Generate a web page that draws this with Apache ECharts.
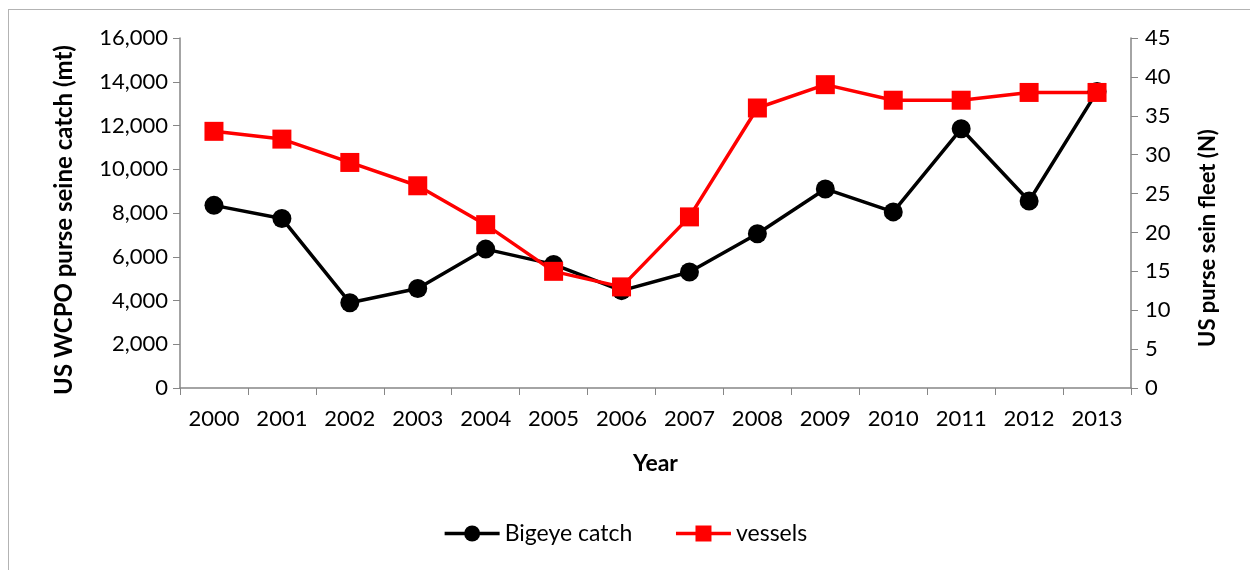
<!DOCTYPE html>
<html>
<head>
<meta charset="utf-8">
<script src="https://cdn.jsdelivr.net/npm/echarts@6/dist/echarts.min.js"></script>
<style>
  html, body { margin: 0; padding: 0; background: #fff; }
  #frame { position: absolute; left: 8px; top: 9px; width: 1250px; height: 570px;
           border-top: 1px solid #b3b3b3; border-left: 1px solid #b3b3b3; }
  #chart { position: absolute; left: 0; top: 0; width: 1250px; height: 570px; }
</style>
</head>
<body>
<div id="frame"></div>
<div id="chart"></div>
<script>
// Tahun (kategori sumbu x)
const years = ['2000', '2001', '2002', '2003', '2004', '2005', '2006',
               '2007', '2008', '2009', '2010', '2011', '2012', '2013'];

// Tangkapan bigeye (mt) - sumbu kiri
const bigeyeCatch = [8350, 7750, 3900, 4550, 6350, 5650, 4450,
                     5300, 7050, 9100, 8050, 11850, 8550, 13550];

// Jumlah kapal - sumbu kanan
const vessels = [33, 32, 29, 26, 21, 15, 13, 22, 36, 39, 37, 37, 38, 38];

const fontFamily = 'Lato, "Open Sans", sans-serif';
const axisGray = '#868686';

const chart = echarts.init(document.getElementById('chart'));

chart.setOption({
    animation: false,
    textStyle: { fontFamily: fontFamily },
    grid: { left: 180, right: 119, top: 38, bottom: 182 },
    legend: {
        bottom: 20,
        left: 'center',
        itemWidth: 55,
        itemHeight: 20,
        itemGap: 42,
        lineStyle: { width: 3.5 },
        textStyle: { fontSize: 23, color: '#000', fontFamily: fontFamily },
        data: ['Bigeye catch', 'vessels']
    },
    xAxis: {
        type: 'category',
        data: years,
        boundaryGap: true,
        name: 'Year',
        nameLocation: 'middle',
        nameGap: 64,
        nameTextStyle: { fontSize: 23, fontWeight: 'bold', color: '#000' },
        axisLine: { lineStyle: { color: axisGray, width: 1.5 } },
        axisTick: { show: true, length: 7, alignWithLabel: false, lineStyle: { color: axisGray } },
        axisLabel: { fontSize: 22, color: '#000', margin: 20 }
    },
    yAxis: [{
        type: 'value',
        min: 0,
        max: 16000,
        interval: 2000,
        name: 'US WCPO purse seine catch (mt)',
        nameLocation: 'middle',
        nameGap: 104,
        nameTextStyle: { fontSize: 24, fontWeight: 'bold', color: '#000', padding: [0, 14, 0, 0] },
        splitLine: { show: false },
        axisLine: { show: true, lineStyle: { color: axisGray, width: 1.5 } },
        axisTick: { show: true, length: 7, lineStyle: { color: axisGray } },
        axisLabel: {
            fontSize: 22, color: '#000', margin: 12,
            formatter: v => v.toLocaleString('en-US')
        }
    }, {
        type: 'value',
        min: 0,
        max: 45,
        interval: 5,
        position: 'right',
        name: 'US purse sein fleet (N)',
        nameLocation: 'middle',
        nameGap: 66,
        nameRotate: 90,
        nameTextStyle: { fontSize: 22, fontWeight: 'bold', color: '#000', padding: [0, 50, 0, 0] },
        splitLine: { show: false },
        axisLine: { show: true, lineStyle: { color: axisGray, width: 1.5 } },
        axisTick: { show: true, length: 7, lineStyle: { color: axisGray } },
        axisLabel: { fontSize: 22, color: '#000', margin: 14 }
    }],
    series: [{
        name: 'Bigeye catch',
        type: 'line',
        yAxisIndex: 0,
        data: bigeyeCatch,
        symbol: 'circle',
        symbolSize: 19,
        lineStyle: { color: '#000', width: 3.5 },
        itemStyle: { color: '#000' }
    }, {
        name: 'vessels',
        type: 'line',
        yAxisIndex: 1,
        data: vessels,
        symbol: 'rect',
        symbolSize: 19,
        lineStyle: { color: '#ff0000', width: 3.5 },
        itemStyle: { color: '#ff0000' }
    }]
});
</script>
</body>
</html>
